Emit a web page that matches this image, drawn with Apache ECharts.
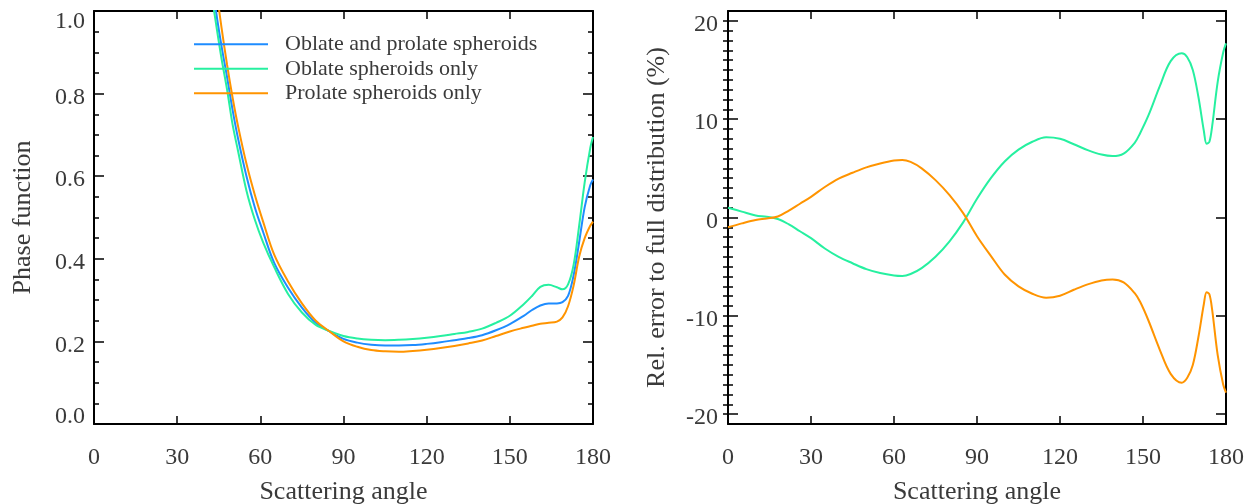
<!DOCTYPE html>
<html>
<head>
<meta charset="utf-8">
<script src="https://cdn.jsdelivr.net/npm/echarts@6/dist/echarts.min.js"></script>
<style>
html,body{margin:0;padding:0;background:#fff;}
#c{width:1247px;height:504px;}
</style>
</head>
<body>
<div id="c"></div>
<script>
// ---- Data ----
var seriesNames = ['Oblate and prolate spheroids', 'Oblate spheroids only', 'Prolate spheroids only'];
var xTicks = [0, 30, 60, 90, 120, 150, 180];
var phaseTicks = [0.0, 0.2, 0.4, 0.6, 0.8, 1.0];
var errTicks = [-20, -10, 0, 10, 20];

var phaseAngles = [40, 42, 44, 46, 48, 50, 52, 55, 58, 61, 65, 70, 75, 80, 85, 90, 95, 100, 105, 110, 115, 120, 125, 130, 135, 140, 145, 150, 155, 158, 161, 164, 167, 169, 171, 173, 175, 177, 179, 180];
var phaseBoth = [1.22, 1.11, 1.0, 0.915, 0.84, 0.76, 0.69, 0.6, 0.525, 0.465, 0.39, 0.33, 0.282, 0.245, 0.224, 0.206, 0.197, 0.192, 0.19, 0.19, 0.191, 0.194, 0.198, 0.203, 0.208, 0.215, 0.227, 0.242, 0.262, 0.276, 0.287, 0.292, 0.292, 0.295, 0.31, 0.36, 0.44, 0.525, 0.578, 0.592];
var phaseOblate = [1.17, 1.06, 0.97, 0.885, 0.81, 0.725, 0.66, 0.565, 0.495, 0.44, 0.38, 0.315, 0.27, 0.24, 0.225, 0.213, 0.207, 0.204, 0.203, 0.204, 0.206, 0.209, 0.213, 0.218, 0.223, 0.231, 0.245, 0.262, 0.29, 0.31, 0.332, 0.337, 0.331, 0.326, 0.338, 0.385, 0.48, 0.585, 0.668, 0.695];
var phaseProlate = [1.3, 1.18, 1.06, 0.96, 0.87, 0.79, 0.72, 0.63, 0.555, 0.49, 0.41, 0.345, 0.292, 0.25, 0.224, 0.2, 0.187, 0.179, 0.176, 0.175, 0.177, 0.18, 0.184, 0.189, 0.195, 0.202, 0.213, 0.224, 0.233, 0.238, 0.243, 0.245, 0.248, 0.258, 0.285, 0.335, 0.405, 0.45, 0.48, 0.49];

var errAngles = [0, 5, 10, 14, 18, 22, 26, 30, 35, 40, 45, 50, 55, 60, 63, 66, 70, 75, 80, 85, 90, 95, 100, 105, 110, 115, 120, 125, 130, 135, 139, 143, 147, 149, 152, 156, 160, 164, 166, 168, 170, 172, 173, 174, 175, 177, 179, 180];
var errOblate = [1.0, 0.6, 0.2, 0.08, -0.15, -0.7, -1.4, -2.1, -3.15, -4.0, -4.65, -5.25, -5.65, -5.9, -5.95, -5.75, -5.15, -4.0, -2.45, -0.5, 1.9, 4.0, 5.7, 6.9, 7.7, 8.15, 8.0, 7.45, 6.85, 6.4, 6.25, 6.5, 7.6, 8.6, 10.4, 13.3, 15.9, 16.7, 16.3, 15.0, 12.3, 8.8, 7.5, 7.7, 9.3, 13.8, 16.8, 17.7];
var errProlate = [-1.0, -0.6, -0.25, -0.1, 0.1, 0.7, 1.4, 2.1, 3.1, 3.95, 4.55, 5.1, 5.5, 5.8, 5.85, 5.65, 5.0, 3.8, 2.3, 0.45, -1.9, -3.9, -5.8, -7.0, -7.75, -8.15, -7.95, -7.35, -6.8, -6.4, -6.3, -6.6, -7.7, -8.6, -10.5, -13.4, -15.9, -16.8, -16.3, -15.0, -12.2, -8.8, -7.6, -7.8, -9.4, -14.0, -17.0, -17.8];

var colors = ['#1e8cff', '#26f0a0', '#ff9400'];

// ---- Build ----
function pairs(xs, ys) { return xs.map(function (x, i) { return [x, ys[i]]; }); }
function range(a, b, s) { var r = []; for (var v = a; v <= b + 1e-9; v += s) r.push(Math.round(v * 100) / 100); return r; }

var FONT = 'Liberation Serif';
var TXT = '#3a3a3a';
var TICKFS = 24;
var lineStyleAxis = { color: '#000', width: 2 };
function tok(extra) {
  var o = { color: TXT, fontFamily: FONT, fontSize: TICKFS };
  for (var k in extra) o[k] = extra[k];
  return o;
}
var labelRich = {
  n: tok({ padding: [8, 0, 0, 0] }),
  t: tok({ padding: [21, 0, 0, 0] }),
  b: tok({ padding: [0, 0, 14, 0] })
};

function xAxisPair(gridIndex) {
  return [
    {
      type: 'value', gridIndex: gridIndex, position: 'bottom', min: 0, max: 180, interval: 30,
      axisLine: { show: true, onZero: false, lineStyle: lineStyleAxis },
      axisTick: { show: true, inside: true, length: 8, lineStyle: { color: '#000', width: 1.5 } },
      axisLabel: { show: true, color: TXT, fontFamily: FONT, fontSize: TICKFS, margin: 22 },
      splitLine: { show: false },
      name: 'Scattering angle', nameLocation: 'middle', nameGap: 55,
      nameTextStyle: { color: TXT, fontFamily: FONT, fontSize: 26 }
    },
    {
      type: 'value', gridIndex: gridIndex, position: 'top', min: 0, max: 180, interval: 30,
      axisLine: { show: true, onZero: false, lineStyle: lineStyleAxis },
      axisTick: { show: true, inside: true, length: 8, lineStyle: { color: '#000', width: 1.5 } },
      axisLabel: { show: false }, splitLine: { show: false }
    }
  ];
}

var xAxes = xAxisPair(0).concat(xAxisPair(1));

var yAxes = [
  {
    type: 'value', gridIndex: 0, position: 'left', min: 0, max: 1, interval: 0.2,
    axisLine: { show: true, onZero: false, lineStyle: lineStyleAxis },
    axisTick: { show: true, inside: true, length: 10, lineStyle: { color: '#000', width: 1.5 } },
    minorTick: { show: true, splitNumber: 4, length: 5, lineStyle: { color: '#000', width: 1.5 } },
    axisLabel: {
      color: TXT, fontFamily: FONT, fontSize: TICKFS, margin: 9, rich: labelRich,
      formatter: function (v) {
        var s = v.toFixed(1);
        if (v >= 0.999) return '{t|' + s + '}';
        if (v <= 0.001) return '{b|' + s + '}';
        return '{n|' + s + '}';
      }
    },
    splitLine: { show: false },
    name: 'Phase function', nameLocation: 'middle', nameGap: 58,
    nameTextStyle: { color: TXT, fontFamily: FONT, fontSize: 26 }
  },
  {
    type: 'value', gridIndex: 0, position: 'right', min: 0, max: 1, interval: 0.2,
    axisLine: { show: true, onZero: false, lineStyle: lineStyleAxis },
    axisTick: { show: true, inside: true, length: 10, lineStyle: { color: '#000', width: 1.5 } },
    minorTick: { show: true, splitNumber: 4, length: 5, lineStyle: { color: '#000', width: 1.5 } },
    axisLabel: { show: false }, splitLine: { show: false }
  },
  {
    type: 'value', gridIndex: 1, position: 'left', min: -21, max: 21,
    axisLine: { show: true, onZero: false, lineStyle: lineStyleAxis },
    axisTick: { show: true, inside: true, length: 10, customValues: errTicks, lineStyle: { color: '#000', width: 1.5 } },
    axisLabel: {
      color: TXT, fontFamily: FONT, fontSize: TICKFS, margin: 10, customValues: errTicks, rich: labelRich,
      formatter: function (v) { return '{n|' + v + '}'; }
    },
    splitLine: { show: false },
    name: 'Rel. error to full distribution (%)', nameLocation: 'middle', nameGap: 58,
    nameTextStyle: { color: TXT, fontFamily: FONT, fontSize: 26 }
  },
  {
    type: 'value', gridIndex: 1, position: 'left', min: -21, max: 21,
    axisLine: { show: false },
    axisTick: { show: true, inside: true, length: 5, customValues: range(-20, 20, 1), lineStyle: { color: '#000', width: 1.5 } },
    axisLabel: { show: false }, splitLine: { show: false }
  },
  {
    type: 'value', gridIndex: 1, position: 'right', min: -21, max: 21,
    axisLine: { show: true, onZero: false, lineStyle: lineStyleAxis },
    axisTick: { show: true, inside: true, length: 10, customValues: errTicks, lineStyle: { color: '#000', width: 1.5 } },
    axisLabel: { show: false }, splitLine: { show: false }
  },
  {
    type: 'value', gridIndex: 1, position: 'right', min: -21, max: 21,
    axisLine: { show: false },
    axisTick: { show: true, inside: true, length: 5, customValues: range(-20, 20, 1), lineStyle: { color: '#000', width: 1.5 } },
    axisLabel: { show: false }, splitLine: { show: false }
  }
];

function lineSeries(name, data, color, xi, yi) {
  return {
    type: 'line', name: name, data: data, xAxisIndex: xi, yAxisIndex: yi,
    showSymbol: false, symbol: 'none', smooth: 0.35, clip: true,
    lineStyle: { color: color, width: 2 }, itemStyle: { color: color },
    animation: false
  };
}

var option = {
  animation: false,
  backgroundColor: '#fff',
  grid: [
    { left: 94, right: 654, top: 11, bottom: 80, containLabel: false, outerBoundsMode: 'none' },
    { left: 728, right: 21, top: 11, bottom: 80, containLabel: false, outerBoundsMode: 'none' }
  ],
  xAxis: xAxes,
  yAxis: yAxes,
  legend: {
    data: seriesNames,
    orient: 'vertical', left: 194, top: 32, padding: 0,
    icon: 'rect', itemWidth: 74, itemHeight: 2, itemGap: 0,
    textStyle: { color: TXT, fontFamily: FONT, fontSize: 22, lineHeight: 24.5, padding: [0, 0, 0, 12] },
    selectedMode: false
  },
  series: [
    lineSeries(seriesNames[0], pairs(phaseAngles, phaseBoth), colors[0], 0, 0),
    lineSeries(seriesNames[1], pairs(phaseAngles, phaseOblate), colors[1], 0, 0),
    lineSeries(seriesNames[2], pairs(phaseAngles, phaseProlate), colors[2], 0, 0),
    lineSeries('Oblate error', pairs(errAngles, errOblate), colors[1], 2, 2),
    lineSeries('Prolate error', pairs(errAngles, errProlate), colors[2], 2, 2)
  ]
};

var chart = echarts.init(document.getElementById('c'), null, { renderer: 'canvas' });
chart.setOption(option);
</script>
</body>
</html>
